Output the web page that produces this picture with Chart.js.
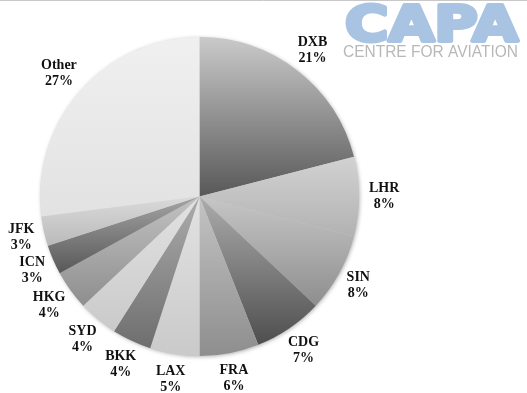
<!DOCTYPE html>
<html>
<head>
<meta charset="utf-8">
<script src="https://cdn.jsdelivr.net/npm/chart.js@4/dist/chart.umd.min.js"></script>
<style>
  html, body { margin: 0; padding: 0; background: #ffffff; }
  #wrap { width: 527px; height: 393px; position: relative; }
</style>
</head>
<body>
<div id="wrap"><canvas id="c" width="527" height="393"></canvas></div>
<script>
const categories = ["DXB", "LHR", "SIN", "CDG", "FRA", "LAX", "BKK", "SYD", "HKG", "ICN", "JFK", "Other"];
const shares = [21, 8, 8, 7, 6, 5, 4, 4, 4, 3, 3, 27];
const topColors = ["#cacaca", "#d2d2d2", "#c6c6c6", "#acacac", "#c4c4c4", "#e2e2e2", "#acacac", "#e2e2e2", "#c2c2c2", "#a4a4a4", "#dadada", "#f0f0f0"];
const bottomColors = ["#585858", "#b2b2b2", "#8e8e8e", "#4e4e4e", "#8e8e8e", "#cacaca", "#6e6e6e", "#cacaca", "#8e8e8e", "#585858", "#bababa", "#e2e2e2"];
const logoMain = "CAPA";
const logoSub = "CENTRE FOR AVIATION";

function sliceGradient(c) {
  const chart = c.chart;
  const area = chart.chartArea;
  const i = c.dataIndex;
  if (!area) return topColors[i];
  const cx = (area.left + area.right) / 2;
  const cy = (area.top + area.bottom) / 2;
  const r = Math.min(area.right - area.left, area.bottom - area.top) / 2;
  const total = shares.reduce((a, b) => a + b, 0);
  let cum = 0;
  for (let k = 0; k < i; k++) cum += shares[k];
  const a0 = -Math.PI / 2 + 2 * Math.PI * cum / total;
  const a1 = -Math.PI / 2 + 2 * Math.PI * (cum + shares[i]) / total;
  const ys = [cy, cy + r * Math.sin(a0), cy + r * Math.sin(a1)];
  [-Math.PI / 2, Math.PI / 2, 3 * Math.PI / 2].forEach(a => {
    if (a >= a0 && a <= a1) ys.push(cy + r * Math.sin(a));
  });
  const y0 = Math.min(...ys), y1 = Math.max(...ys);
  const g = chart.ctx.createLinearGradient(0, y0, 0, Math.max(y1, y0 + 1));
  g.addColorStop(0, topColors[i]);
  g.addColorStop(1, bottomColors[i]);
  return g;
}

const decorPlugin = {
  id: 'decor',
  beforeDraw(chart) {
    const ctx = chart.ctx;
    ctx.save();
    ctx.fillStyle = '#ffffff';
    ctx.fillRect(0, 0, chart.width, chart.height);
    ctx.strokeStyle = '#c8c8c8';
    ctx.lineWidth = 1;
    ctx.beginPath(); ctx.moveTo(0, 0.5); ctx.lineTo(chart.width, 0.5); ctx.stroke();
    // logo
    ctx.fillStyle = '#a9c4e2';
    ctx.strokeStyle = '#a9c4e2';
    ctx.lineJoin = 'round';
    ctx.font = 'bold 50px "DejaVu Sans", "Liberation Sans", sans-serif';
    ctx.textBaseline = 'alphabetic';
    const w = ctx.measureText(logoMain).width;
    ctx.save();
    ctx.translate(345, 41);
    ctx.scale(173 / w, 1);
    ctx.lineWidth = 4;
    ctx.strokeText(logoMain, 0, 0);
    ctx.fillText(logoMain, 0, 0);
    ctx.restore();
    ctx.fillStyle = '#b8b8b8';
    ctx.font = '16px "Liberation Sans", Arial, sans-serif';
    const w2 = ctx.measureText(logoSub).width;
    ctx.save();
    ctx.translate(343, 57);
    ctx.scale(175 / w2, 1);
    ctx.fillText(logoSub, 0, 0);
    ctx.restore();
    ctx.restore();
  },
  beforeDatasetsDraw(chart) {
    const el = chart.getDatasetMeta(0).data[0];
    if (!el) return;
    const ctx = chart.ctx;
    ctx.save();
    ctx.shadowColor = 'rgba(0,0,0,0.35)';
    ctx.shadowBlur = 4;
    ctx.shadowOffsetX = 1;
    ctx.shadowOffsetY = 1;
    ctx.fillStyle = '#cccccc';
    ctx.beginPath();
    ctx.arc(el.x, el.y, el.outerRadius - 0.5, 0, Math.PI * 2);
    ctx.fill();
    ctx.restore();
  },
  afterDatasetsDraw(chart) {
    const ctx = chart.ctx;
    const meta = chart.getDatasetMeta(0);
    ctx.save();
    ctx.fillStyle = '#111111';
    ctx.font = 'bold 14px "Liberation Serif", "Times New Roman", serif';
    ctx.textAlign = 'center';
    ctx.textBaseline = 'middle';
    const lineH = 16;
    const boxH = 2 * lineH;
    meta.data.forEach((el, i) => {
      const l1 = categories[i], l2 = shares[i] + '%';
      const bw = Math.max(ctx.measureText(l1).width, ctx.measureText(l2).width);
      const mid = (el.startAngle + el.endAngle) / 2;
      const ux = Math.cos(mid), uy = Math.sin(mid);
      const d = el.outerRadius + 10;
      const x = el.x + d * ux + ux * bw / 2;
      const y = el.y + d * uy + uy * boxH / 2;
      ctx.fillText(l1, x, y - lineH / 2);
      ctx.fillText(l2, x, y + lineH / 2);
    });
    ctx.restore();
  }
};

new Chart(document.getElementById('c'), {
  type: 'pie',
  data: {
    labels: categories,
    datasets: [{
      data: shares,
      backgroundColor: sliceGradient,
      borderWidth: 0
    }]
  },
  options: {
    responsive: false,
    animation: false,
    layout: { padding: { left: 40, top: 37, right: 168, bottom: 37 } },
    plugins: {
      legend: { display: false },
      title: { display: false },
      tooltip: { enabled: false }
    }
  },
  plugins: [decorPlugin]
});
</script>
</body>
</html>
